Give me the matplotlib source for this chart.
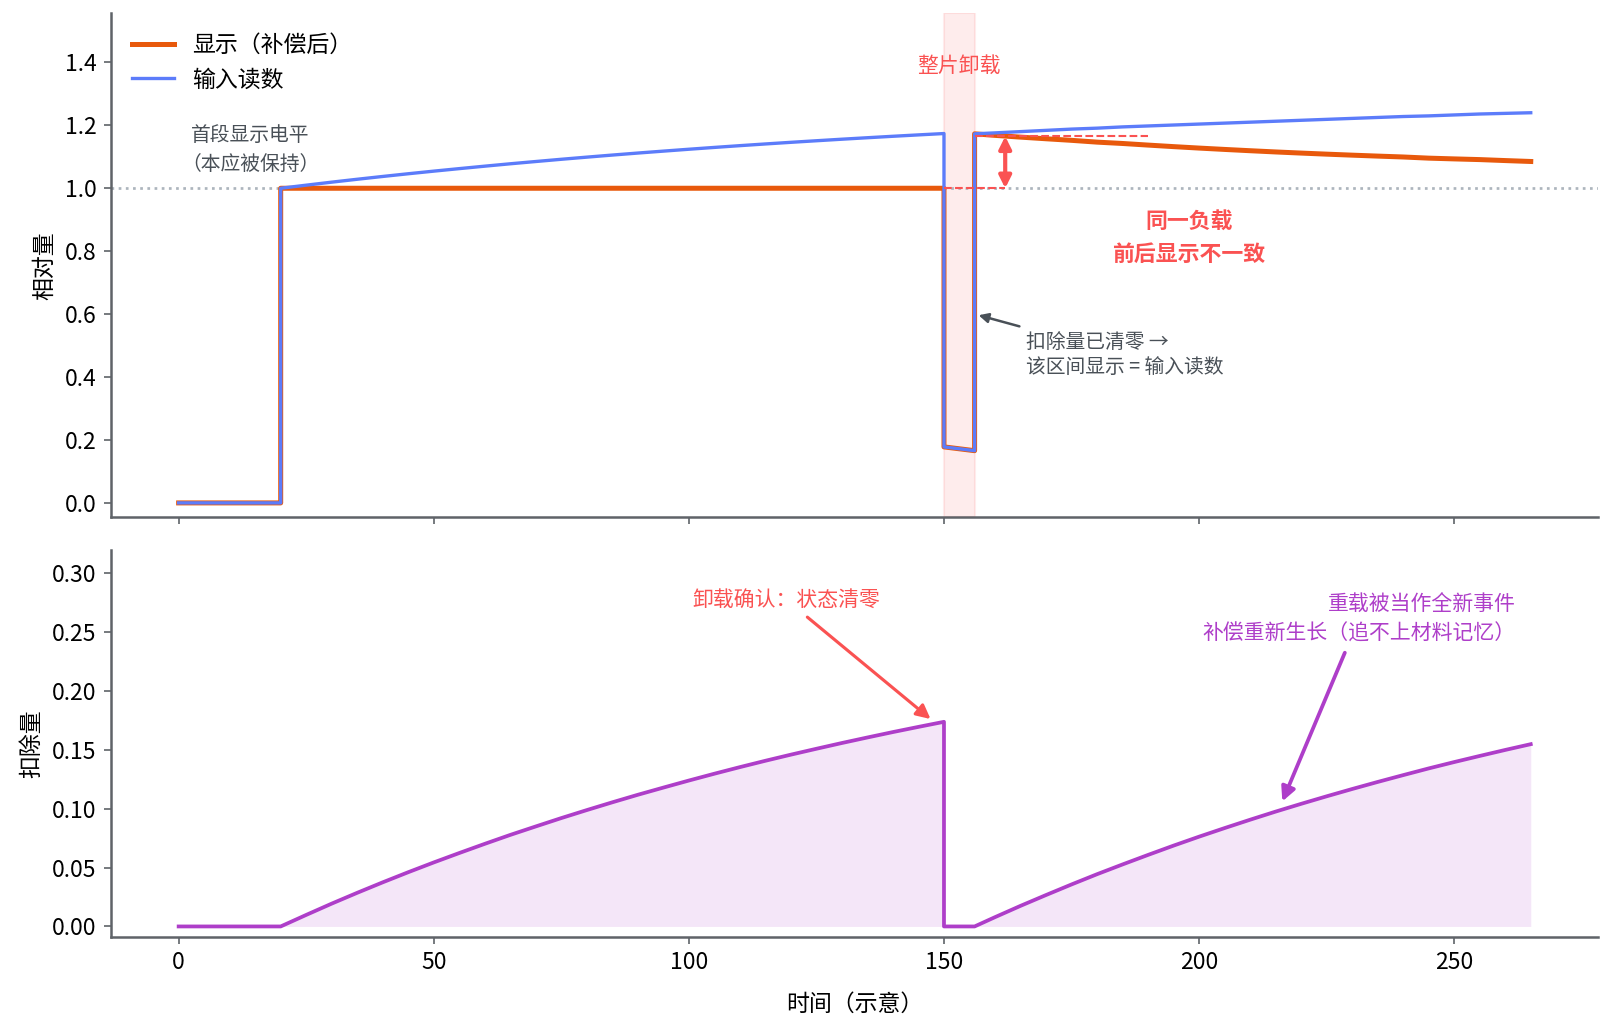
import matplotlib
matplotlib.use("Agg")
import matplotlib.pyplot as plt

plt.rcParams['font.family'] = ['Noto Sans CJK SC', 'DejaVu Sans']
plt.rcParams['font.size'] = 11
plt.rcParams['axes.unicode_minus'] = False

ORANGE = "#e8590c"
BLUE = "#5c7cfa"
PURPLE = "#ae3ec9"
RED = "#fa5252"
GRAY = "#495057"
SPINE = "#5f6368"

# top panel: time, input reading, display after compensation
t_top = ([0, 20, 20] + list(range(25, 155, 5)) + [150, 156, 156] + list(range(160, 270, 5)))
input_reading = [0.0, 0.0, 1.0,
                 1.0098, 1.0194, 1.0286, 1.0375, 1.0461, 1.0544, 1.0624, 1.0702, 1.0778,
                 1.0850, 1.0921, 1.0989, 1.1055, 1.1119, 1.1180, 1.1240, 1.1298, 1.1354,
                 1.1408, 1.1460, 1.1510, 1.1559, 1.1606, 1.1652, 1.1696, 1.1739,
                 0.178, 0.166, 1.173,
                 1.176, 1.180, 1.184, 1.188, 1.191, 1.195, 1.198, 1.201, 1.204, 1.207, 1.210,
                 1.213, 1.216, 1.219, 1.222, 1.225, 1.228, 1.230, 1.233, 1.236, 1.238, 1.240]
display = [0.0, 0.0, 1.0,
           1.0, 1.0, 1.0, 1.0, 1.0, 1.0, 1.0, 1.0, 1.0, 1.0, 1.0, 1.0, 1.0,
           1.0, 1.0, 1.0, 1.0, 1.0, 1.0, 1.0, 1.0, 1.0, 1.0, 1.0, 1.0, 1.0,
           0.178, 0.166, 1.173,
           1.1681, 1.1625, 1.1573, 1.1523, 1.1466, 1.1423, 1.1372, 1.1323, 1.1277, 1.1234,
           1.1193, 1.1154, 1.1118, 1.1084, 1.1052, 1.1022, 1.0994, 1.0957, 1.0933, 1.0911,
           1.0880, 1.0851]

# bottom panel: deduction amount
t_bot = ([0, 20] + list(range(25, 155, 5)) + [150, 156] + list(range(160, 270, 5)))
deduction = [0.0, 0.0,
             0.0098, 0.0194, 0.0286, 0.0375, 0.0461, 0.0544, 0.0624, 0.0702, 0.0778,
             0.0850, 0.0921, 0.0989, 0.1055, 0.1119, 0.1180, 0.1240, 0.1298, 0.1354,
             0.1408, 0.1460, 0.1510, 0.1559, 0.1606, 0.1652, 0.1696, 0.1739,
             0.0, 0.0,
             0.0079, 0.0175, 0.0267, 0.0357, 0.0444, 0.0527, 0.0608, 0.0687, 0.0763,
             0.0836, 0.0907, 0.0976, 0.1042, 0.1106, 0.1168, 0.1228, 0.1286, 0.1343,
             0.1397, 0.1449, 0.1500, 0.1549]

unload_start, unload_end = 150, 156
x_ticks = [0, 50, 100, 150, 200, 250]

fig, (ax1, ax2) = plt.subplots(2, 1, sharex=True, figsize=(10.76, 6.88),
                               gridspec_kw={'height_ratios': [1.303, 1]})
fig.subplots_adjust(left=0.0688, right=0.9903, top=0.9871, bottom=0.0923, hspace=0.073)

# ---- top
ax1.axvspan(unload_start, unload_end, color=RED, alpha=0.11, zorder=0)
ax1.axhline(1.0, color="#adb5bd", ls=":", lw=1.3, zorder=1)
ax1.plot(t_top, display, color=ORANGE, lw=2.4, label="显示（补偿后）", zorder=2)
ax1.plot(t_top, input_reading, color=BLUE, lw=1.6, label="输入读数", zorder=3)

ax1.hlines(1.0, 150, 162, colors=RED, linestyles="--", lw=1, zorder=4)
ax1.hlines(1.165, 156, 190, colors=RED, linestyles="--", lw=1, zorder=4)
ax1.annotate("", xy=(162, 1.0), xytext=(162, 1.165),
             arrowprops=dict(arrowstyle="<|-|>", color=RED, lw=2, mutation_scale=12,
                             shrinkA=0, shrinkB=0), zorder=5)
ax1.text(198, 0.84, "同一负载\n前后显示不一致", color=RED, fontsize=10.5, fontweight="bold",
         ha="center", va="center", linespacing=1.5)
ax1.text(153, 1.39, "整片卸载", color=RED, fontsize=10, ha="center", va="center")
ax1.text(14, 1.12, "首段显示电平\n（本应被保持）", color=GRAY, fontsize=9.5,
         ha="center", va="center", linespacing=1.5)
ax1.annotate("扣除量已清零 →\n该区间显示 = 输入读数", xy=(156, 0.6), xytext=(166, 0.47),
             color=GRAY, fontsize=9.5, ha="left", va="center", linespacing=1.3,
             arrowprops=dict(arrowstyle="-|>", color=GRAY, lw=1.2))

ax1.set_ylim(-0.046, 1.556)
ax1.set_yticks([0.0, 0.2, 0.4, 0.6, 0.8, 1.0, 1.2, 1.4])
ax1.set_ylabel("相对量")
ax1.legend(loc="upper left", frameon=False, fontsize=11, handlelength=1.85)

# ---- bottom
ax2.fill_between(t_bot, deduction, 0, color=PURPLE, alpha=0.13, lw=0)
ax2.plot(t_bot, deduction, color=PURPLE, lw=1.8)
ax2.annotate("卸载确认：状态清零", xy=(148, 0.174), xytext=(119, 0.278),
             color=RED, fontsize=10, ha="center", va="center",
             arrowprops=dict(arrowstyle="-|>", color=RED, lw=1.5, mutation_scale=14))
ax2.annotate("重载被当作全新事件\n补偿重新生长（追不上材料记忆）", xy=(216, 0.103), xytext=(262, 0.261),
             color=PURPLE, fontsize=10, ha="right", va="center", linespacing=1.4,
             arrowprops=dict(arrowstyle="-|>", color=PURPLE, lw=1.8, mutation_scale=14))

ax2.set_ylim(-0.00875, 0.32)
ax2.set_yticks([0.0, 0.05, 0.10, 0.15, 0.20, 0.25, 0.30])
ax2.set_ylabel("扣除量")
ax2.set_xlabel("时间（示意）", labelpad=9)
ax2.set_xticks(x_ticks)

for ax in (ax1, ax2):
    ax.spines["top"].set_visible(False)
    ax.spines["right"].set_visible(False)
    ax.spines["left"].set_color(SPINE)
    ax.spines["bottom"].set_color(SPINE)
    ax.spines["left"].set_linewidth(1.2)
    ax.spines["bottom"].set_linewidth(1.2)
    ax.tick_params(colors=SPINE, labelcolor="black", labelsize=11)

fig.savefig("out.png", dpi=150)
